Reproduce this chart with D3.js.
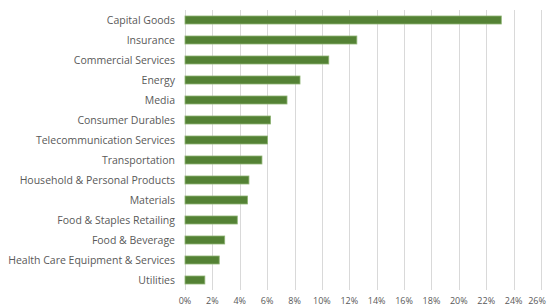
<!DOCTYPE html>
<html>

<head>
    <meta charset="UTF-8">
    <title>Sectors</title>
    <style>
        body {
            margin: 0;
            background: #fff;
        }

        text {
            font-family: "Open Sans", sans-serif;
            fill: #595959;
        }

        .grid line {
            stroke: #d9d9d9;
            stroke-width: 1px;
        }

        .bars rect {
            fill: #548235;
            stroke: #8fb474;
            stroke-width: 0.8px;
        }
    </style>
</head>

<body>
    <svg id="chart" width="547" height="307"></svg>

    <script src="https://cdn.jsdelivr.net/npm/d3@7/dist/d3.min.js"></script>
    <script>
        var categories = ["Capital Goods", "Insurance", "Commercial Services", "Energy", "Media",
            "Consumer Durables", "Telecommunication Services", "Transportation",
            "Household & Personal Products", "Materials", "Food & Staples Retailing",
            "Food & Beverage", "Health Care Equipment & Services", "Utilities"];
        var values = [23.1, 12.55, 10.5, 8.4, 7.45, 6.25, 6.03, 5.62, 4.67, 4.57, 3.82, 2.9, 2.5, 1.45];
        var tickValues = [0, 2, 4, 6, 8, 10, 12, 14, 16, 18, 20, 22, 24, 26];

        var svg = d3.select("#chart");

        var x = d3.scaleLinear().domain([0, 26]).range([185, 541]);
        var y = d3.scaleBand().domain(categories).range([10, 290]).paddingInner(0.6).paddingOuter(0.3);

        // gridlines
        svg.append("g")
            .attr("class", "grid")
            .selectAll("line")
            .data(tickValues)
            .join("line")
            .attr("x1", d => Math.round(x(d)) + 0.5)
            .attr("x2", d => Math.round(x(d)) + 0.5)
            .attr("y1", 10)
            .attr("y2", 290);

        // x labels (last one nudged so it stays inside the frame)
        svg.append("g")
            .selectAll("text")
            .data(tickValues)
            .join("text")
            .attr("x", d => Math.min(x(d), 537))
            .attr("y", 304)
            .attr("text-anchor", "middle")
            .style("font-size", "9px")
            .text(d => d + "%");

        // bars
        svg.append("g")
            .attr("class", "bars")
            .selectAll("rect")
            .data(values)
            .join("rect")
            .attr("x", x(0))
            .attr("y", (d, i) => y(categories[i]))
            .attr("width", d => x(d) - x(0))
            .attr("height", y.bandwidth());

        // category labels
        svg.append("g")
            .selectAll("text")
            .data(categories)
            .join("text")
            .attr("x", 175)
            .attr("y", d => y(d) + y.bandwidth() / 2)
            .attr("dy", "0.35em")
            .attr("text-anchor", "end")
            .style("font-size", "10.5px")
            .text(d => d);
    </script>

</body>

</html>
